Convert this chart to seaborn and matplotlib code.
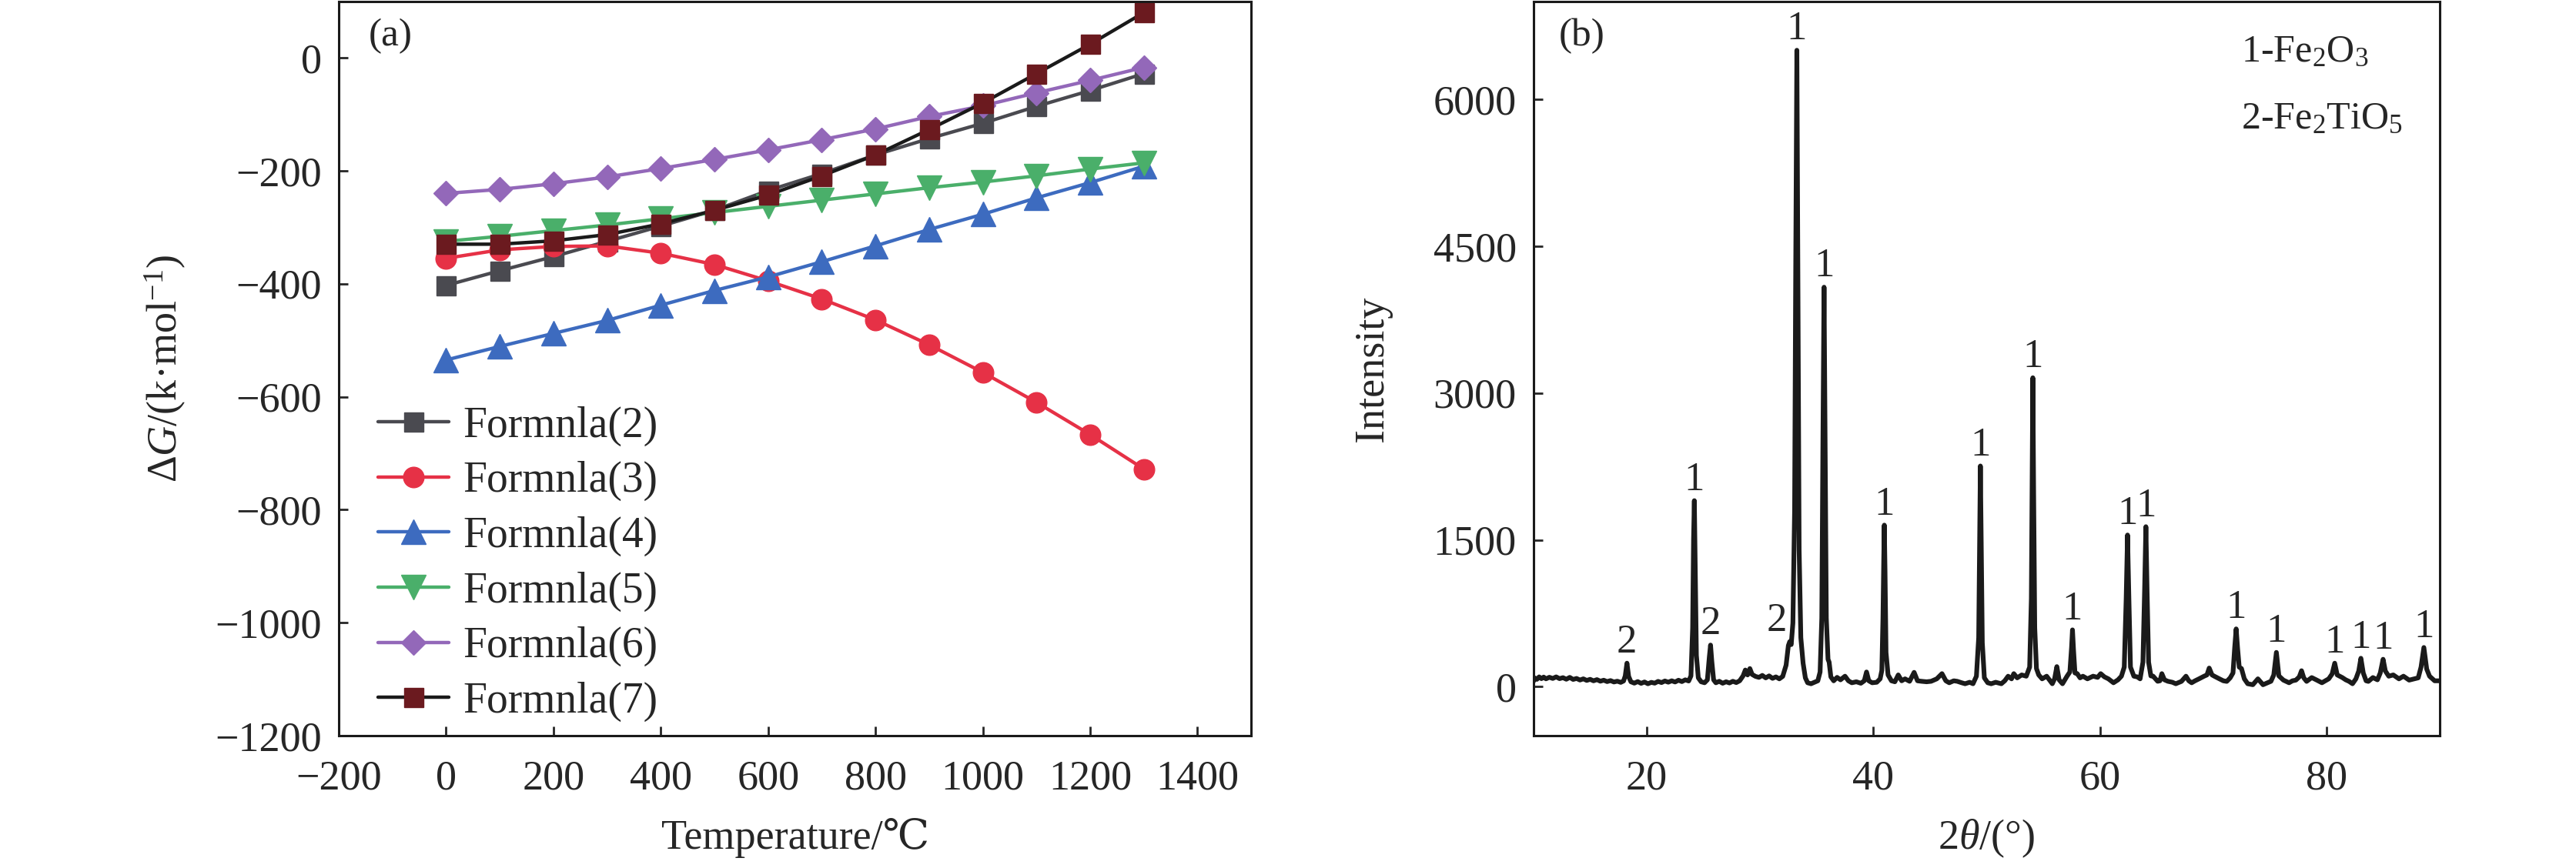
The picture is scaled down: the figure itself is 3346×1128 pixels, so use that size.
import numpy as np
import pandas as pd
import matplotlib
matplotlib.use("Agg")
import matplotlib.pyplot as plt
import seaborn as sns

# ---------------- data: panel (a) ----------------
temperature = [0, 100, 200, 300, 400, 500, 600, 700, 800, 900, 1000, 1100, 1200, 1300]
formula_2 = [-403, -377, -352, -325, -298, -270, -235, -205, -172, -143, -116, -86, -58, -28]
formula_3 = [-355, -340, -334, -333, -346, -366, -395, -427, -464, -508, -557, -610, -667, -728]
formula_4 = [-535, -511, -488, -465, -438, -412, -388, -361, -333, -304, -277, -248, -221, -192]
formula_5 = [-325, -316, -306, -296, -285, -274, -263, -252, -241, -230, -220, -209, -197, -186]
formula_6 = [-240, -233, -223, -211, -196, -180, -163, -145, -126, -104, -85, -62, -40, -17]
formula_7 = [-330, -330, -324, -313, -294, -270, -243, -209, -172, -127, -80, -28, 24, 80]
series_names = ["Formnla(2)", "Formnla(3)", "Formnla(4)", "Formnla(5)", "Formnla(6)", "Formnla(7)"]

# ---------------- data: panel (b) ----------------
two_theta = [
    10.0, 10.1, 10.3, 10.5, 10.7, 10.9, 11.1, 11.4, 11.7, 12.0,
    12.3, 12.6, 12.9, 13.2, 13.5, 13.8, 14.1, 14.4, 14.7, 15.0,
    15.3, 15.6, 15.9, 16.2, 16.5, 16.8, 17.1, 17.4, 17.7, 17.95,
    18.1, 18.25, 18.4, 18.6, 18.9, 19.2, 19.5, 19.8, 20.1, 20.4,
    20.7, 21.0, 21.3, 21.6, 21.9, 22.2, 22.5, 22.8, 23.1, 23.4,
    23.7, 23.9, 24.05, 24.13, 24.2, 24.28, 24.38, 24.55, 24.8, 25.1,
    25.35, 25.52, 25.63, 25.74, 25.9, 26.1, 26.4, 26.7, 27.0, 27.3,
    27.6, 27.9, 28.2, 28.5, 28.7, 28.9, 29.1, 29.3, 29.6, 29.9,
    30.2, 30.5, 30.8, 31.1, 31.4, 31.7, 32.0, 32.3, 32.5, 32.62,
    32.75, 32.9, 33.05, 33.15, 33.25, 33.35, 33.45, 33.6, 33.8, 34.0,
    34.2, 34.5, 34.8, 35.1, 35.3, 35.45, 35.55, 35.65, 35.75, 35.85,
    36.0, 36.1, 36.25, 36.5, 36.8, 37.1, 37.5, 37.8, 38.1, 38.5,
    38.9, 39.2, 39.4, 39.6, 39.9, 40.3, 40.6, 40.75, 40.85, 40.92,
    40.97, 41.03, 41.12, 41.3, 41.6, 41.9, 42.2, 42.5, 42.8, 43.2,
    43.6, 43.9, 44.25, 44.7, 45.1, 45.6, 46.06, 46.4, 46.7, 47.1,
    47.4, 47.8, 48.1, 48.5, 48.8, 49.1, 49.3, 49.38, 49.45, 49.52,
    49.62, 49.8, 50.1, 50.4, 50.8, 51.3, 51.6, 51.9, 52.2, 52.4,
    52.7, 53.1, 53.5, 53.8, 53.95, 54.02, 54.08, 54.15, 54.25, 54.4,
    54.6, 54.9, 55.3, 55.6, 55.8, 56.0, 56.2, 56.4, 56.7, 57.1,
    57.35, 57.5, 57.58, 57.67, 57.8, 58.0, 58.25, 58.5, 58.9, 59.4,
    59.8, 60.07, 60.4, 60.75, 61.2, 61.6, 61.9, 62.15, 62.32, 62.44,
    62.56, 62.7, 63.0, 63.3, 63.55, 63.8, 63.95, 64.06, 64.17, 64.3,
    64.5, 64.7, 65.1, 65.3, 65.47, 65.7, 66.0, 66.4, 66.7, 67.2,
    67.6, 67.85, 68.1, 68.4, 68.75, 69.2, 69.45, 69.65, 69.9, 70.1,
    70.55, 70.9, 71.2, 71.5, 71.75, 71.9, 72.03, 72.15, 72.3, 72.5,
    72.75, 73.05, 73.5, 73.95, 74.4, 74.8, 75.1, 75.35, 75.58, 75.8,
    76.2, 76.7, 77.0, 77.3, 77.6, 77.8, 78.0, 78.25, 78.7, 79.15,
    79.6, 80.2, 80.5, 80.73, 80.95, 81.4, 81.7, 82.0, 82.3, 82.6,
    82.85, 83.04, 83.25, 83.5, 83.7, 84.1, 84.5, 84.75, 85.0, 85.2,
    85.5, 85.9, 86.4, 86.8, 87.3, 87.75, 88.1, 88.35, 88.6, 88.85,
    89.1, 89.55, 90.0,
]
intensity = [
    55, 90, 75, 100, 82, 98, 80, 96, 84, 100,
    82, 92, 76, 95, 74, 84, 68, 80, 64, 75,
    60, 72, 56, 66, 52, 62, 48, 56, 44, 58,
    110, 240, 105, 50, 36, 52, 34, 48, 30, 44,
    36, 54, 42, 58, 46, 60, 48, 66, 52, 70,
    58, 110, 600, 1500, 1900, 1200, 320, 90, 50, 40,
    70, 300, 425, 260, 70, 40, 55, 35, 50, 38,
    55, 42, 60, 110, 170, 120, 185, 125, 105, 95,
    115, 90, 110, 85, 100, 80, 105, 220, 420, 460,
    430, 650, 1800, 4300, 6500, 4000, 1400, 500, 240, 90,
    40, 30, 45, 60, 150, 700, 2500, 4080, 2400, 700,
    280, 250, 100, 60, 95, 70, 107, 60, 40, 50,
    35, 60, 150, 60, 40, 45, 80, 165, 700, 1300,
    1650, 1200, 350, 120, 60, 50, 120, 60, 80, 55,
    146, 60, 55, 50, 55, 80, 133, 60, 40, 60,
    55, 40, 30, 45, 30, 107, 500, 1400, 2254, 1500,
    450, 90, 40, 30, 45, 30, 60, 107, 80, 133,
    90, 120, 107, 200, 900, 2100, 3155, 2000, 600, 185,
    120, 80, 107, 60, 30, 80, 205, 70, 30, 107,
    150, 400, 580, 380, 140, 133, 90, 107, 80, 107,
    95, 133, 100, 80, 40, 70, 107, 200, 900, 1549,
    900, 200, 107, 100, 80, 250, 1000, 1634, 950, 250,
    110, 107, 55, 60, 133, 70, 55, 45, 30, 54,
    107, 60, 40, 60, 80, 107, 120, 190, 120, 107,
    80, 60, 54, 90, 140, 400, 590, 400, 200, 185,
    80, 30, 20, 80, 20, 40, 55, 120, 350, 110,
    67, 40, 60, 67, 100, 163, 90, 54, 93, 67,
    40, 80, 130, 240, 120, 93, 70, 54, 30, 80,
    160, 290, 140, 60, 54, 93, 70, 140, 280, 160,
    107, 120, 80, 107, 67, 80, 90, 200, 400, 180,
    107, 60, 60,
]
peak_pos = [18.25, 24.2, 25.63, 32.62, 33.25, 35.65, 40.97, 49.45, 54.08, 57.58,
            62.44, 64.06, 72.03, 75.58, 80.73, 83.04, 85.0, 88.6]
peak_phase = ["2", "1", "2", "2", "1", "1", "1", "1", "1", "1",
              "1", "1", "1", "1", "1", "1", "1", "1"]
phase_legend = ["1-Fe$_2$O$_3$", "2-Fe$_2$TiO$_5$"]

# ---------------- style ----------------
sns.set_style("ticks")
plt.rcParams["font.family"] = ["Liberation Serif", "DejaVu Serif", "DejaVu Sans", "Noto Sans CJK SC"]
plt.rcParams["mathtext.fontset"] = "custom"
plt.rcParams["mathtext.rm"] = "Liberation Serif"
plt.rcParams["mathtext.it"] = "Liberation Serif:italic"
plt.rcParams["xtick.direction"] = "in"
plt.rcParams["ytick.direction"] = "in"
plt.rcParams["axes.linewidth"] = 1.1
plt.rcParams["xtick.major.width"] = 1.0
plt.rcParams["ytick.major.width"] = 1.0
plt.rcParams["xtick.major.size"] = 4.3
plt.rcParams["ytick.major.size"] = 4.3
plt.rcParams["axes.edgecolor"] = "#1a1a1a"

FS = 19.5
fig = plt.figure(figsize=(16.73, 5.64), dpi=200)
ax1 = fig.add_axes([0.1315, 0.1525, 0.3542, 0.846])
ax2 = fig.add_axes([0.5953, 0.1525, 0.3518, 0.846])

# ---------------- panel (a) ----------------
series_values = [formula_2, formula_3, formula_4, formula_5, formula_6, formula_7]
line_colors = ["#4a4a50", "#e63146", "#3d6bbf", "#4aaf6a", "#9368b9", "#1a1a1a"]
marker_colors = ["#4a4a50", "#e63146", "#3d6bbf", "#4aaf6a", "#9368b9", "#6b1a1f"]
markers = ["s", "o", "^", "v", "D", "s"]
msizes = [9.0, 9.6, 11.2, 11.2, 8.3, 9.0]

for name, vals, lc, mc, mk, ms in zip(series_names, series_values, line_colors,
                                      marker_colors, markers, msizes):
    sns.lineplot(x=temperature, y=vals, ax=ax1, color=lc, lw=1.6, marker=mk, ms=ms,
                 markerfacecolor=mc, markeredgecolor=mc, markeredgewidth=0.5,
                 label=name, estimator=None, sort=False)

ax1.set_xlim(-200, 1500)
ax1.set_ylim(-1200, 100)
ax1.set_xticks(np.arange(-200, 1401, 200))
ax1.set_yticks(np.arange(-1200, 1, 200))
ax1.tick_params(labelsize=FS, top=False, right=False)
ax1.tick_params(axis="x", pad=11)
ax1.tick_params(axis="y", pad=8)
ax1.set_xlabel("Temperature/℃", fontsize=FS)
ax1.set_ylabel("Δ$G$/(k·mol$^{-1}$)", fontsize=FS)
ax1.xaxis.set_label_coords(0.5, -0.112)
ax1.yaxis.set_label_coords(-0.165, 0.5)
ax1.text(0.033, 0.953, "(a)", transform=ax1.transAxes, fontsize=18.5, va="center", ha="left")
leg = ax1.legend(loc="upper left", bbox_to_anchor=(0.043, 0.449), frameon=False, fontsize=20,
                 borderpad=0, borderaxespad=0, handlelength=1.65, handletextpad=0.34,
                 labelspacing=0.35)
for sp in ax1.spines.values():
    sp.set_visible(True)

# ---------------- panel (b) ----------------
sns.lineplot(x=two_theta, y=intensity, ax=ax2, color="#1a1a1a", lw=2.2,
             estimator=None, sort=False)
ax2.set_xlim(10, 90)
ax2.set_ylim(-500, 7000)
ax2.set_xticks([20, 40, 60, 80])
ax2.set_yticks([0, 1500, 3000, 4500, 6000])
ax2.tick_params(labelsize=FS, top=False, right=False)
ax2.tick_params(axis="x", pad=11)
ax2.tick_params(axis="y", pad=8)
ax2.set_xlabel("2$\\theta$/(°)", fontsize=FS)
ax2.set_ylabel("Intensity", fontsize=FS)
ax2.xaxis.set_label_coords(0.5, -0.112)
ax2.yaxis.set_label_coords(-0.156, 0.5)
ax2.text(0.028, 0.953, "(b)", transform=ax2.transAxes, fontsize=18.5, va="center", ha="left")
ax2.text(0.781, 0.931, phase_legend[0], transform=ax2.transAxes, fontsize=18, va="center", ha="left")
ax2.text(0.781, 0.840, phase_legend[1], transform=ax2.transAxes, fontsize=18, va="center", ha="left")

lookup = dict(zip(two_theta, intensity))
for pos, ph in zip(peak_pos, peak_phase):
    dx = -6 if pos == 32.62 else 0
    ax2.annotate(ph, xy=(pos, lookup[pos]), xytext=(dx, 5), textcoords="offset points",
                 ha="center", va="baseline", fontsize=19)
for sp in ax2.spines.values():
    sp.set_visible(True)

fig.savefig("out.png", dpi=200)
